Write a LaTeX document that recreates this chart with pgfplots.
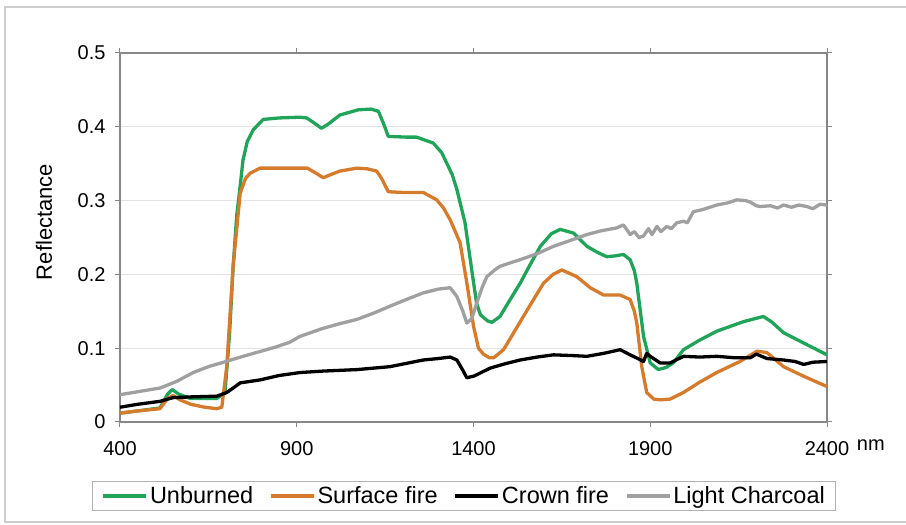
\documentclass[border=0pt]{standalone}
\usepackage{fontspec}
\setmainfont{Liberation Sans}
\usepackage{pgfplots}
\pgfplotsset{compat=1.18}

\definecolor{unburned}{RGB}{32,164,90}
\definecolor{surface}{RGB}{214,122,44}
\definecolor{charcoal}{RGB}{160,160,160}
\definecolor{frame}{RGB}{205,205,205}
\definecolor{axisgray}{RGB}{135,135,135}

\begin{document}
\begin{tikzpicture}[x=1pt,y=1pt]
\useasboundingbox (0,0) rectangle (906,525);
% outer chart frame
\draw[frame, line width=1.5pt] (907,518) -- (5,518) -- (5,3) -- (907,3);
\begin{axis}[
  at={(120pt,103pt)}, anchor=south west,
  width=707pt, height=369pt, scale only axis,
  xmin=400, xmax=2400, ymin=0, ymax=0.5,
  xtick={400,900,1400,1900,2400},
  xticklabels={400,900,1400,1900,2400},
  ytick={0,0.1,0.2,0.3,0.4,0.5},
  yticklabels={0,0.1,0.2,0.3,0.4,0.5},
  tick align=outside, major tick length=5pt,
  tick style={axisgray, line width=1pt},
  axis line style={axisgray, line width=1.3pt},
  ymajorgrids, major grid style={gray!22, line width=1pt},
  ticklabel style={font=\fontsize{20}{24}\selectfont},
  xticklabel style={yshift=-11pt},
  yticklabel style={xshift=-6pt},
  xlabel={nm},
  xlabel style={font=\fontsize{20}{24}\selectfont, at={(axis description cs:1.062,-0.062)}, anchor=center},
  ylabel={Reflectance},
  ylabel style={font=\fontsize{22}{26}\selectfont, at={(axis description cs:-0.1075,0.542)}, anchor=center},
  legend columns=4,
  legend style={at={(axis description cs:0.487,-0.2005)}, anchor=center,
    draw=gray!60, line width=1pt, font=\fontsize{23.5}{28}\selectfont,
    inner xsep=9pt, inner ysep=2pt,
    nodes={inner xsep=2pt, inner ysep=3pt},
    /tikz/every odd column/.append style={column sep=0pt},
    /tikz/every even column/.append style={column sep=14pt}},
  legend cell align=left,
  legend image code/.code={\draw[#1] (0pt,0pt) -- (43pt,0pt);},
  every axis plot/.append style={line width=3.3pt, line join=round},
]
\addplot[unburned] coordinates {
(400,0.012) (450,0.015) (513,0.019) (535,0.038) (548,0.044) (565,0.038)
(598,0.032) (640,0.032) (674,0.032) (697,0.040) (710,0.120) (720,0.210)
(730,0.279) (740,0.320) (748,0.355) (760,0.380) (777,0.396) (805,0.410)
(850,0.412) (909,0.413) (928,0.412) (950,0.405) (970,0.398) (990,0.404)
(1022,0.416) (1074,0.423) (1110,0.424) (1131,0.421) (1145,0.405) (1159,0.387)
(1211,0.386) (1239,0.386) (1286,0.378) (1310,0.365) (1324,0.351) (1340,0.335)
(1353,0.315) (1376,0.270) (1395,0.206) (1409,0.160) (1420,0.145) (1440,0.137)
(1452,0.135) (1475,0.143) (1500,0.163) (1532,0.188) (1560,0.213) (1589,0.238)
(1620,0.255) (1645,0.261) (1683,0.256) (1721,0.238) (1750,0.230) (1777,0.224)
(1800,0.225) (1824,0.227) (1843,0.220) (1855,0.205) (1862,0.188) (1872,0.150)
(1881,0.116) (1900,0.080) (1923,0.071) (1945,0.074) (1965,0.080) (1994,0.098)
(2040,0.111) (2088,0.123) (2164,0.136) (2220,0.143) (2245,0.135) (2277,0.121)
(2334,0.107) (2400,0.091)
};
\addlegendentry{Unburned}
\addplot[surface] coordinates {
(400,0.012) (450,0.015) (513,0.018) (535,0.032) (550,0.036) (570,0.030)
(600,0.024) (640,0.020) (674,0.018) (688,0.020) (702,0.075) (720,0.211)
(740,0.310) (755,0.330) (768,0.337) (796,0.344) (909,0.344) (930,0.344)
(955,0.337) (975,0.331) (1000,0.336) (1022,0.340) (1070,0.344) (1100,0.343)
(1126,0.340) (1140,0.330) (1159,0.312) (1202,0.311) (1258,0.311) (1296,0.301)
(1315,0.290) (1334,0.274) (1362,0.243) (1381,0.189) (1400,0.130) (1414,0.100)
(1428,0.092) (1445,0.087) (1457,0.087) (1485,0.098) (1510,0.118) (1541,0.143)
(1570,0.166) (1598,0.188) (1625,0.200) (1650,0.206) (1692,0.197) (1730,0.182)
(1768,0.172) (1815,0.172) (1843,0.166) (1855,0.150) (1862,0.134) (1876,0.075)
(1890,0.040) (1910,0.031) (1928,0.030) (1956,0.031) (1994,0.040) (2040,0.054)
(2088,0.067) (2154,0.082) (2202,0.096) (2230,0.094) (2277,0.075) (2334,0.062)
(2400,0.048)
};
\addlegendentry{Surface fire}
\addplot[black] coordinates {
(400,0.020) (450,0.024) (513,0.028) (550,0.033) (600,0.034) (674,0.035)
(702,0.040) (720,0.046) (740,0.053) (796,0.057) (850,0.063) (909,0.067)
(975,0.069) (1070,0.071) (1164,0.075) (1258,0.084) (1300,0.086) (1334,0.088)
(1353,0.084) (1370,0.070) (1381,0.060) (1400,0.062) (1409,0.064) (1447,0.073)
(1490,0.079) (1532,0.084) (1580,0.088) (1626,0.091) (1680,0.090) (1721,0.089)
(1768,0.093) (1815,0.098) (1843,0.091) (1865,0.086) (1881,0.082) (1890,0.093)
(1900,0.089) (1928,0.080) (1956,0.080) (1994,0.089) (2040,0.088) (2088,0.089)
(2140,0.087) (2183,0.087) (2200,0.092) (2230,0.086) (2277,0.084) (2310,0.082)
(2334,0.078) (2360,0.081) (2400,0.082)
};
\addlegendentry{Crown fire}
\addplot[charcoal] coordinates {
(400,0.037) (450,0.041) (513,0.046) (560,0.055) (607,0.067) (650,0.075)
(700,0.082) (748,0.089) (800,0.096) (843,0.102) (880,0.108) (909,0.116)
(975,0.127) (1020,0.133) (1070,0.139) (1120,0.148) (1164,0.157) (1210,0.166)
(1258,0.175) (1300,0.180) (1334,0.182) (1353,0.170) (1370,0.150) (1381,0.134)
(1395,0.140) (1409,0.161) (1425,0.183) (1438,0.197) (1460,0.206) (1475,0.211)
(1532,0.220) (1580,0.228) (1626,0.238) (1680,0.247) (1721,0.254) (1760,0.259)
(1805,0.263) (1824,0.267) (1835,0.260) (1843,0.254) (1855,0.258) (1868,0.250)
(1881,0.252) (1895,0.262) (1905,0.254) (1919,0.265) (1930,0.258) (1947,0.265)
(1960,0.262) (1975,0.270) (1994,0.272) (2005,0.270) (2022,0.285) (2050,0.288)
(2088,0.294) (2120,0.297) (2145,0.301) (2170,0.300) (2183,0.298) (2200,0.293)
(2211,0.292) (2240,0.293) (2260,0.290) (2277,0.294) (2300,0.291) (2320,0.294)
(2343,0.292) (2360,0.289) (2380,0.295) (2400,0.294)
};
\addlegendentry{Light Charcoal}
\end{axis}
\end{tikzpicture}
\end{document}
